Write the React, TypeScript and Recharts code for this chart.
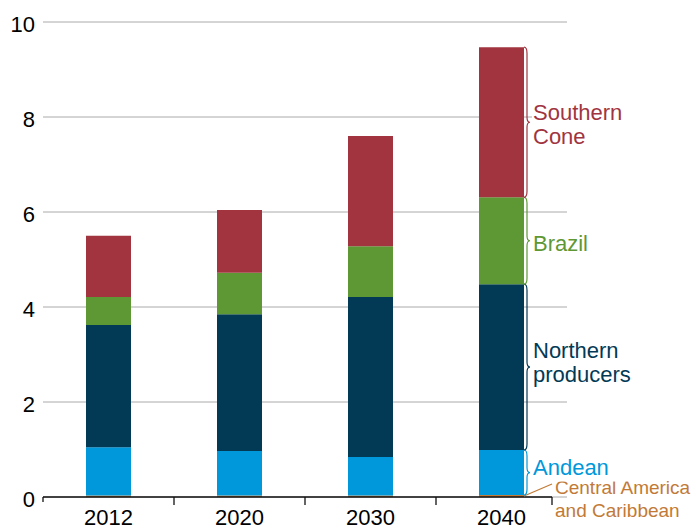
import { BarChart, Bar, XAxis, YAxis, CartesianGrid, LabelList } from 'recharts'

const years = ['2012', '2020', '2030', '2040']
const centralAmerica = [0.03, 0.03, 0.03, 0.04]
const andean = [1.02, 0.94, 0.81, 0.95]
const northern = [2.57, 2.88, 3.37, 3.49]
const brazil = [0.59, 0.87, 1.07, 1.83]
const southernCone = [1.29, 1.32, 2.32, 3.16]
const yTicks = [0, 2, 4, 6, 8, 10]

const data = years.map((year, i) => ({
  year,
  central: centralAmerica[i],
  andean: andean[i],
  northern: northern[i],
  brazil: brazil[i],
  southern: southernCone[i],
}))

const FONT = '"Liberation Sans", Arial, sans-serif'
const C = {
  central: '#c27a36',
  andean: '#0098da',
  northern: '#023a56',
  brazil: '#5e9834',
  southern: '#a1343f',
}

function box(p: any) {
  const vb = p.viewBox || {}
  return {
    x: p.x ?? vb.x,
    y: p.y ?? vb.y,
    width: p.width ?? vb.width,
    height: p.height ?? vb.height,
  }
}

// curly brace to the right of the last bar, with the series name next to it
function braceLabel(color: string, lines: string[], dy = 0) {
  return (p: any) => {
    if (p.index !== years.length - 1) return null
    const { x, y, width, height } = box(p)
    const x0 = x + width
    const top = y
    const bot = y + height
    const mid = (top + bot) / 2
    const d = `M${x0} ${top} Q${x0 + 3} ${top} ${x0 + 3} ${top + 6} L${x0 + 3} ${mid - 5} Q${x0 + 3} ${mid} ${x0 + 6} ${mid} Q${x0 + 3} ${mid} ${x0 + 3} ${mid + 5} L${x0 + 3} ${bot - 6} Q${x0 + 3} ${bot} ${x0} ${bot}`
    const tx = x0 + 9
    const first = lines.length > 1 ? mid - 2 + dy : mid + 8 + dy
    return (
      <g>
        <path d={d} fill="none" stroke={color} strokeWidth={1.2} />
        <rect x={tx - 1} y={first - 19} width={100} height={lines.length * 24 + 2} fill="#fff" />
        {lines.map((l, i) => (
          <text key={i} x={tx} y={first + i * 24} fontSize={22} fill={color} fontFamily={FONT}>{l}</text>
        ))}
      </g>
    )
  }
}

function leaderLabel(p: any) {
  if (p.index !== years.length - 1) return null
  const { x, y, width, height } = box(p)
  const x0 = x + width
  const mid = y + height / 2
  return (
    <g>
      <line x1={x0} y1={mid} x2={x0 + 28} y2={mid - 12} stroke={C.central} strokeWidth={1.2} />
      <text x={x0 + 31} y={mid - 2} fontSize={19} fill={C.central} fontFamily={FONT}>Central America</text>
      <text x={x0 + 31} y={mid + 21} fontSize={19} fill={C.central} fontFamily={FONT}>and Caribbean</text>
    </g>
  )
}

function YearTick(props: any) {
  const { x, y, payload, index, visibleTicksCount, width } = props
  const count = visibleTicksCount || years.length
  const band = width ? width / count : 131
  const left = x - band / 2
  const last = index === count - 1
  const right = last ? x + band / 2 - 15 : x + band / 2
  return (
    <g>
      <line x1={left} x2={right} y1={y} y2={y} stroke="#111" strokeWidth={1.4} />
      {index === 0 && <line x1={left} x2={left} y1={y} y2={y + 5} stroke="#111" strokeWidth={1.3} />}
      <line x1={right} x2={right} y1={y} y2={y + 8} stroke="#111" strokeWidth={1.3} />
      <text x={x} y={y + 28} textAnchor="middle" fontSize={22} fill="#000" fontFamily={FONT}>{payload.value}</text>
    </g>
  )
}

export default function App() {
  return (
    <div style={{ position: 'absolute', left: 0, top: 0, background: '#fff', fontFamily: FONT }}>
      <BarChart width={696} height={529} data={data} barSize={45} margin={{ top: 22, right: 129, left: 0, bottom: 0 }}>
        <CartesianGrid vertical={false} stroke="#aaa" />
        <XAxis dataKey="year" axisLine={false} tickLine={false} tickSize={0} tickMargin={0} height={32} tick={<YearTick />} interval={0} />
        <YAxis
          domain={[0, 10]}
          ticks={yTicks}
          width={43}
          axisLine={false}
          tickLine={false}
          tick={{ fontSize: 22, fill: '#000', fontFamily: FONT, dy: 2 }}
        />
        <Bar dataKey="central" stackId="a" fill={C.central} isAnimationActive={false}>
          <LabelList dataKey="central" content={leaderLabel} />
        </Bar>
        <Bar dataKey="andean" stackId="a" fill={C.andean} isAnimationActive={false}>
          <LabelList dataKey="andean" content={braceLabel(C.andean, ['Andean'], -6)} />
        </Bar>
        <Bar dataKey="northern" stackId="a" fill={C.northern} isAnimationActive={false}>
          <LabelList dataKey="northern" content={braceLabel(C.northern, ['Northern', 'producers'], -7)} />
        </Bar>
        <Bar dataKey="brazil" stackId="a" fill={C.brazil} isAnimationActive={false}>
          <LabelList dataKey="brazil" content={braceLabel(C.brazil, ['Brazil'], 2)} />
        </Bar>
        <Bar dataKey="southern" stackId="a" fill={C.southern} isAnimationActive={false}>
          <LabelList dataKey="southern" content={braceLabel(C.southern, ['Southern', 'Cone'])} />
        </Bar>
      </BarChart>
    </div>
  )
}
